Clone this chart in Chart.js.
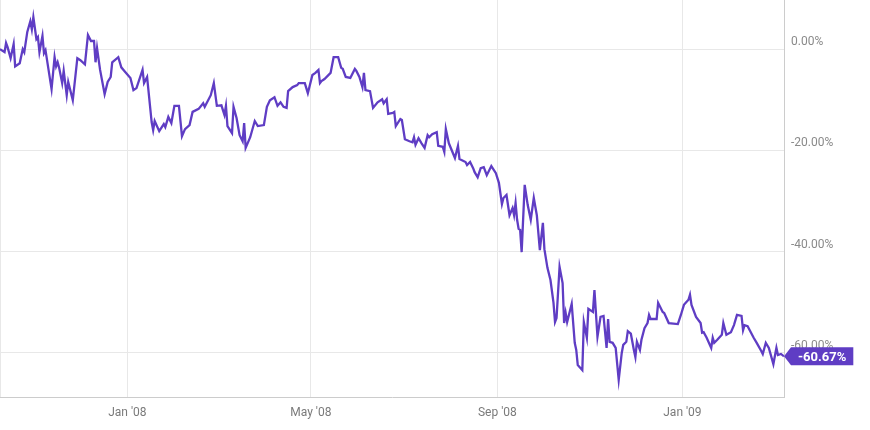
<!DOCTYPE html>
<html>
<head>
<meta charset="utf-8">
<script src="https://cdn.jsdelivr.net/npm/chart.js@4"></script>
<style>
  body { margin: 0; background: #fff; }
  #wrap { width: 870px; height: 430px; }
</style>
</head>
<body>
<div id="wrap"><canvas id="grafico" width="870" height="430"></canvas></div>
<script>
// dados: dias desde 9 out 2007 e variacao em %
let days = [0, 3, 4, 5, 7, 9, 10, 13, 15, 16, 18, 20, 21, 22, 24, 25, 26, 28, 29, 30,
  34, 36, 37, 38, 39, 41, 42, 44, 45, 48, 51, 53, 56, 58, 60, 62, 63, 64, 66, 69,
  71, 73, 74, 78, 80, 82, 86, 88, 90, 94, 95, 97, 100, 101, 102, 105, 108, 109, 111, 113,
  115, 118, 120, 122, 125, 127, 131, 134, 135, 139, 141, 143, 146, 148, 149, 150, 153, 154, 156, 158,
  160, 161, 162, 165, 168, 170, 174, 176, 178, 181, 183, 185, 187, 189, 190, 193, 196, 197, 199, 201,
  203, 206, 208, 210, 211, 212, 214, 218, 220, 223, 225, 226, 228, 231, 234, 235, 237, 239, 240, 241,
  244, 246, 249, 252, 253, 255, 256, 259, 260, 261, 264, 265, 267, 270, 272, 273, 274, 276, 278, 280,
  282, 283, 285, 288, 289, 292, 293, 294, 296, 300, 302, 303, 307, 308, 310, 312, 313, 315, 317, 319,
  321, 324, 327, 329, 331, 332, 334, 336, 338, 339, 340, 341, 342, 343, 344, 346, 348, 350, 352, 354,
  356, 358, 359, 361, 363, 365, 366, 367, 369, 371, 372, 373, 374, 377, 379, 380, 381, 384, 385, 387,
  388, 391, 392, 394, 396, 398, 400, 401, 402, 404, 406, 408, 410, 411, 413, 414, 416, 418, 419, 420,
  422, 423, 425, 427, 428, 429, 433, 434, 437, 438, 441, 447, 449, 451, 454, 455, 456, 459, 462, 463,
  464, 466, 469, 470, 471, 473, 476, 477, 479, 482, 484, 486, 489, 490, 491, 493, 497, 499, 502, 503,
  505, 507, 510, 512, 513, 515, 517];

let values = [0, -0.6, 1.2, 0.4, -1.8, 1.0, -3.4, -2.8, 0, -0.6, 3.4, 5.5, 3.9, 6.3, 2.0, 2.4, -0.6, 2.6, -0.8, -0.2,
  -7.9, -1.6, -3.4, -2.6, -3.7, -6.7, -4.3, -9.1, -6.5, -10.1, -1.8, -2.2, -3.0, 2.8, 1.6, 1.6, -2.6, 0.2, -4.1, -8.9,
  -6.5, -5.5, -2.6, -1.6, -3.6, -4.3, -5.7, -8.1, -7.7, -4.1, -6.7, -5.5, -14.4, -16.0, -14.2, -16.2, -14.8, -15.4, -13.4, -14.6,
  -11.2, -11.2, -17.2, -15.8, -15.0, -12.4, -11.8, -10.7, -11.4, -9.1, -6.7, -11.2, -11.1, -13.0, -11.2, -15.2, -16.6, -11.4, -13.6, -17.0,
  -18.2, -14.6, -19.5, -17.4, -14.2, -15.2, -15.0, -11.4, -10.1, -9.5, -11.2, -10.5, -11.4, -11.6, -8.3, -7.5, -7.1, -6.7, -6.7, -6.7,
  -8.7, -5.1, -4.7, -4.1, -6.7, -6.3, -5.9, -4.7, -1.6, -1.6, -3.7, -3.9, -5.5, -5.7, -3.9, -4.3, -5.5, -7.5, -4.7, -8.1,
  -8.3, -11.6, -10.5, -9.9, -10.7, -9.9, -12.8, -12.6, -12.4, -15.2, -13.8, -14.0, -17.8, -18.2, -18.4, -17.4, -18.9, -17.6, -18.6, -19.5,
  -17.0, -17.4, -16.8, -16.4, -19.1, -19.3, -20.3, -15.8, -18.6, -21.5, -19.1, -21.7, -22.3, -22.9, -22.3, -23.5, -24.3, -25.3, -23.5, -23.3,
  -24.9, -23.1, -24.5, -26.4, -30.6, -29.4, -28.8, -32.8, -31.4, -32.8, -30.4, -33.7, -35.5, -35.7, -40.1, -26.8, -30.8, -33.7, -29.4, -32.8,
  -39.7, -34.3, -39.5, -43.2, -45.6, -50.1, -53.9, -53.1, -43.0, -46.2, -54.1, -52.1, -53.9, -50.3, -58.0, -59.4, -62.4, -63.4, -53.9, -57.0,
  -51.3, -51.9, -47.6, -56.8, -52.9, -52.7, -59.0, -53.3, -57.8, -58.0, -59.0, -65.3, -60.0, -58.4, -57.8, -55.7, -56.2, -59.4, -60.8, -57.8,
  -59.4, -57.4, -55.1, -54.1, -52.5, -53.3, -53.3, -50.1, -51.9, -52.1, -54.1, -54.3, -52.5, -50.5, -49.5, -48.5, -50.5, -52.9, -54.1, -56.0,
  -55.9, -57.0, -59.0, -57.0, -58.0, -57.4, -56.4, -54.1, -56.4, -55.9, -54.5, -52.5, -52.7, -55.5, -54.5, -54.7, -57.0, -58.0, -59.6, -60.2,
  -58.0, -59.0, -62.2, -59.0, -60.4, -60.2, -60.67];

// marcas do eixo x (dias desde o inicio)
let tickDays = [0, 84, 205, 328, 450];
let tickLabels = ["", "Jan '08", "May '08", "Sep '08", "Jan '09"];

// marcas do eixo y
let yTicks = [0, -20, -40, -60];

let roxo = "#5f3dc4";

Chart.defaults.font.family = "Roboto";
Chart.defaults.font.size = 12;

// etiqueta do ultimo valor
let etiqueta = {
  id: "etiqueta",
  afterDraw(chart) {
    let ctx = chart.ctx;
    let ultimo = values[values.length - 1];
    let x = chart.scales.x.getPixelForValue(days[days.length - 1]);
    let y = chart.scales.y.getPixelForValue(ultimo);
    let texto = ultimo.toFixed(2) + "%";

    ctx.save();
    ctx.font = "bold 13px Roboto";
    let w = ctx.measureText(texto).width + 14;
    let h = 18;
    let left = x + 7;

    ctx.fillStyle = roxo;
    ctx.beginPath();
    ctx.moveTo(x, y);
    ctx.lineTo(left, y - h / 2);
    ctx.lineTo(left + w, y - h / 2);
    ctx.lineTo(left + w, y + h / 2);
    ctx.lineTo(left, y + h / 2);
    ctx.closePath();
    ctx.fill();

    ctx.fillStyle = "#fff";
    ctx.textAlign = "center";
    ctx.textBaseline = "middle";
    ctx.fillText(texto, left + w / 2, y + 1);
    ctx.restore();
  }
};

let pontos = days.map((d, i) => ({ x: d, y: values[i] }));

let chart = new Chart(document.getElementById("grafico").getContext("2d"), {
  type: "line",
  data: {
    datasets: [{
      data: pontos,
      borderColor: roxo,
      borderWidth: 2.3,
      pointRadius: 0,
      tension: 0,
      fill: false
    }]
  },
  options: {
    responsive: false,
    animation: false,
    layout: { padding: 0 },
    plugins: {
      legend: { display: false },
      tooltip: { enabled: false }
    },
    scales: {
      x: {
        type: "linear",
        min: 0,
        max: days[days.length - 1],
        afterBuildTicks: scale => {
          scale.ticks = tickDays.map(v => ({ value: v }));
        },
        afterFit: scale => {
          scale.height = 33;
          scale.paddingLeft = 0;
          scale.paddingRight = 0;
        },
        grid: { color: "#e8e8e8", drawTicks: false },
        border: { color: "#cccccc" },
        ticks: {
          color: "#7a7a7a",
          padding: 9,
          maxRotation: 0,
          autoSkip: false,
          callback: (v, i) => tickLabels[i]
        }
      },
      y: {
        position: "right",
        min: -68.7,
        max: 9.7,
        afterBuildTicks: scale => {
          scale.ticks = yTicks.map(v => ({ value: v }));
        },
        afterFit: scale => {
          scale.width = 86;
          scale.paddingTop = 0;
          scale.paddingBottom = 0;
        },
        grid: { color: "#e8e8e8", drawTicks: false },
        border: { color: "#cccccc" },
        ticks: {
          color: "#8a8a8a",
          padding: 7,
          labelOffset: -7,
          callback: v => v.toFixed(2) + "%"
        }
      }
    }
  },
  plugins: [etiqueta]
});
</script>
</body>
</html>
